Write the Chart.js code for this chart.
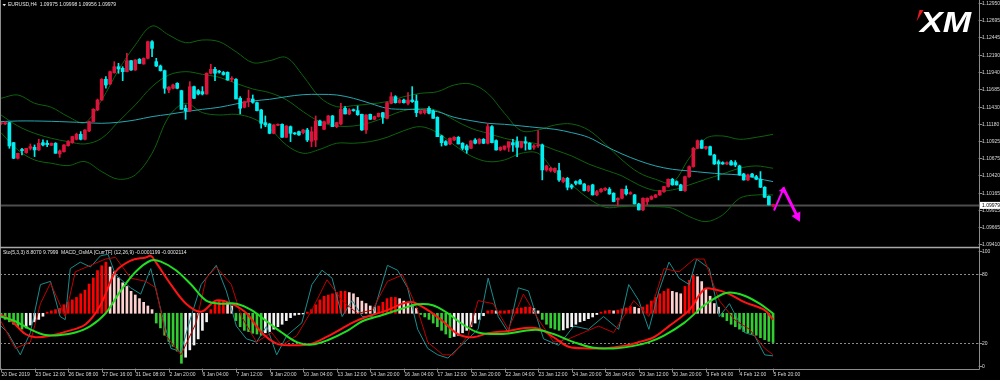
<!DOCTYPE html>
<html><head><meta charset="utf-8">
<script src="https://cdn.jsdelivr.net/npm/chart.js@4.4.1/dist/chart.umd.min.js"></script>
<style>html,body{margin:0;padding:0;background:#000;overflow:hidden}#wrap{width:1000px;height:380px}</style>
</head><body><div id="wrap"><canvas id="c" width="1000" height="380"></canvas></div>
<script>
const symbolHeader = "EURUSD,H4  1.09975 1.09998 1.09956 1.09979";
const indicatorHeader = "Sto(5,3,3) 8.8070 9.7999  MACD_OsMA [CurrTF] (12,26,9) -0.0001199 -0.0002114";
const timeLabels = ["20 Dec 2019","23 Dec 12:00","26 Dec 08:00","27 Dec 16:00","31 Dec 08:00","2 Jan 20:00","6 Jan 04:00","7 Jan 12:00","8 Jan 20:00","10 Jan 04:00","13 Jan 12:00","14 Jan 20:00","16 Jan 04:00","17 Jan 12:00","20 Jan 20:00","22 Jan 04:00","23 Jan 12:00","24 Jan 20:00","28 Jan 04:00","29 Jan 12:00","30 Jan 20:00","3 Feb 04:00","4 Feb 12:00","5 Feb 20:00"];
const timeTickIdx = [0,8,16,24,32,40,48,56,64,72,80,88,96,104,112,120,128,136,144,152,160,168,176,184];
const priceTicks = ["1.12950","1.12695","1.12445","1.12190","1.11940","1.11685","1.11430","1.11180","1.10925","1.10675","1.10420","1.10165","1.09915","1.09665","1.09410"];
const stoTicks = [100,80,20,0];
const stoLevels = [80,20];
const lastPrice = 1.09979;

const openP = [1.11180,1.11174,1.11194,1.10900,1.10671,1.10800,1.10754,1.10817,1.10832,1.10793,1.10900,1.10891,1.10861,1.10891,1.10734,1.10768,1.10856,1.10900,1.10949,1.11023,1.10949,1.11072,1.11209,1.11380,1.11526,1.11830,1.11761,1.11927,1.12015,1.11991,1.11942,1.12103,1.11966,1.12123,1.12055,1.12138,1.12382,1.12089,1.12025,1.11957,1.11673,1.11698,1.11771,1.11663,1.11404,1.11370,1.11722,1.11663,1.11649,1.11614,1.11918,1.11976,1.11945,1.11930,1.11932,1.11830,1.11830,1.11551,1.11419,1.11502,1.11541,1.11487,1.11380,1.11194,1.11174,1.11037,1.11155,1.11169,1.10979,1.11135,1.11037,1.11062,1.11047,1.11086,1.10920,1.10939,1.11218,1.11096,1.11184,1.11292,1.11135,1.11174,1.11404,1.11321,1.11379,1.11370,1.11316,1.11086,1.11316,1.11243,1.11282,1.11340,1.11257,1.11477,1.11575,1.11487,1.11526,1.11477,1.11526,1.11511,1.11331,1.11340,1.11404,1.11365,1.11272,1.10998,1.10915,1.10881,1.10939,1.10978,1.10891,1.10852,1.10817,1.10939,1.10891,1.10949,1.10891,1.11135,1.10930,1.10793,1.10803,1.10832,1.10900,1.10915,1.10832,1.10915,1.10891,1.10832,1.10852,1.10866,1.10499,1.10490,1.10475,1.10490,1.10328,1.10377,1.10270,1.10328,1.10343,1.10293,1.10196,1.10280,1.10133,1.10181,1.10206,1.10216,1.10157,1.10059,1.10084,1.10216,1.10147,1.10133,1.10000,1.09912,1.10035,1.10070,1.10098,1.10133,1.10181,1.10255,1.10362,1.10328,1.10280,1.10196,1.10401,1.10548,1.10817,1.10929,1.10817,1.10841,1.10719,1.10621,1.10607,1.10587,1.10621,1.10607,1.10558,1.10440,1.10352,1.10440,1.10401,1.10362,1.10245,1.10113,1.09975];
const highP = [1.11200,1.11209,1.11200,1.10905,1.10744,1.10817,1.10817,1.10881,1.10866,1.10949,1.10940,1.10930,1.10895,1.10900,1.10793,1.10871,1.10930,1.10995,1.11040,1.11062,1.11090,1.11215,1.11400,1.11540,1.11840,1.11869,1.11950,1.12089,1.12064,1.12015,1.12211,1.12110,1.12120,1.12135,1.12145,1.12390,1.12400,1.12138,1.12040,1.11966,1.11722,1.11760,1.11780,1.11670,1.11453,1.11795,1.11730,1.11680,1.11722,1.11925,1.12050,1.12006,1.11960,1.11945,1.11940,1.11869,1.11840,1.11575,1.11510,1.11673,1.11600,1.11495,1.11390,1.11292,1.11180,1.11165,1.11175,1.11175,1.11150,1.11145,1.11050,1.11070,1.11096,1.11110,1.11130,1.11291,1.11233,1.11215,1.11300,1.11300,1.11200,1.11477,1.11430,1.11400,1.11395,1.11438,1.11320,1.11311,1.11320,1.11290,1.11335,1.11345,1.11500,1.11634,1.11590,1.11540,1.11540,1.11634,1.11722,1.11600,1.11370,1.11390,1.11428,1.11380,1.11280,1.11010,1.10930,1.10970,1.10990,1.10990,1.10900,1.10870,1.10930,1.10960,1.10960,1.10960,1.11184,1.11150,1.10940,1.10840,1.10850,1.10900,1.10950,1.10985,1.10920,1.10985,1.10900,1.10870,1.11076,1.10880,1.10570,1.10540,1.10530,1.10597,1.10390,1.10390,1.10290,1.10340,1.10360,1.10300,1.10270,1.10290,1.10200,1.10230,1.10240,1.10240,1.10165,1.10090,1.10220,1.10265,1.10180,1.10140,1.10010,1.10090,1.10090,1.10120,1.10140,1.10200,1.10260,1.10370,1.10375,1.10340,1.10290,1.10410,1.10560,1.10830,1.10940,1.10940,1.10845,1.10850,1.10730,1.10646,1.10620,1.10620,1.10640,1.10636,1.10570,1.10450,1.10440,1.10450,1.10420,1.10475,1.10255,1.10120,1.09998];
const lowP = [1.11165,1.11165,1.10817,1.10665,1.10660,1.10720,1.10744,1.10793,1.10695,1.10783,1.10852,1.10842,1.10856,1.10744,1.10685,1.10760,1.10850,1.10890,1.10940,1.10940,1.10940,1.11062,1.11200,1.11370,1.11520,1.11698,1.11750,1.11918,1.11918,1.11810,1.11940,1.11960,1.11960,1.12060,1.12050,1.12130,1.12162,1.12015,1.11950,1.11624,1.11634,1.11690,1.11690,1.11389,1.11243,1.11355,1.11545,1.11600,1.11600,1.11610,1.11908,1.11810,1.11920,1.11890,1.11815,1.11795,1.11541,1.11321,1.11410,1.11429,1.11478,1.11365,1.11111,1.11135,1.11030,1.11030,1.11150,1.10975,1.10975,1.10915,1.11020,1.11005,1.11027,1.10915,1.10840,1.10842,1.11150,1.11090,1.11180,1.11135,1.11120,1.11160,1.11320,1.11310,1.11360,1.11300,1.11080,1.11037,1.11240,1.11235,1.11275,1.11184,1.11250,1.11470,1.11480,1.11480,1.11480,1.11455,1.11490,1.11282,1.11320,1.11320,1.11320,1.11255,1.10988,1.10850,1.10860,1.10870,1.10930,1.10880,1.10793,1.10744,1.10810,1.10880,1.10880,1.10885,1.10880,1.10895,1.10790,1.10780,1.10790,1.10770,1.10770,1.10695,1.10820,1.10790,1.10800,1.10800,1.10830,1.10353,1.10480,1.10470,1.10460,1.10330,1.10310,1.10206,1.10220,1.10280,1.10290,1.10190,1.10180,1.10130,1.10120,1.10170,1.10195,1.10140,1.10030,1.09970,1.10075,1.10130,1.10140,1.10000,1.09912,1.09900,1.09985,1.10060,1.10090,1.10125,1.10170,1.10245,1.10275,1.10275,1.10196,1.10185,1.10390,1.10540,1.10810,1.10815,1.10800,1.10715,1.10580,1.10352,1.10580,1.10575,1.10570,1.10548,1.10420,1.10350,1.10340,1.10395,1.10355,1.10240,1.10095,1.09985,1.09956];
const closeP = [1.11185,1.11194,1.10852,1.10671,1.10744,1.10783,1.10817,1.10842,1.10793,1.10891,1.10866,1.10871,1.10891,1.10744,1.10778,1.10866,1.10915,1.10989,1.11023,1.10949,1.11086,1.11209,1.11389,1.11526,1.11830,1.11746,1.11942,1.12015,1.11981,1.11942,1.12103,1.11966,1.12113,1.12064,1.12138,1.12382,1.12284,1.12025,1.11957,1.11698,1.11715,1.11746,1.11698,1.11389,1.11370,1.11722,1.11551,1.11614,1.11614,1.11918,1.11976,1.11918,1.11935,1.11900,1.11820,1.11844,1.11541,1.11404,1.11502,1.11551,1.11492,1.11370,1.11184,1.11160,1.11037,1.11160,1.11169,1.10979,1.11145,1.11037,1.11028,1.11013,1.11086,1.10939,1.11060,1.11218,1.11150,1.11208,1.11292,1.11135,1.11194,1.11389,1.11321,1.11379,1.11370,1.11311,1.11086,1.11306,1.11243,1.11282,1.11331,1.11272,1.11487,1.11575,1.11487,1.11526,1.11487,1.11526,1.11502,1.11340,1.11365,1.11379,1.11331,1.11257,1.10988,1.10900,1.10866,1.10964,1.10978,1.10881,1.10817,1.10793,1.10925,1.10891,1.10949,1.10891,1.11135,1.10900,1.10793,1.10832,1.10852,1.10915,1.10866,1.10832,1.10915,1.10891,1.10803,1.10852,1.10866,1.10499,1.10558,1.10523,1.10523,1.10352,1.10377,1.10245,1.10245,1.10303,1.10293,1.10196,1.10265,1.10133,1.10181,1.10216,1.10230,1.10147,1.10035,1.10084,1.10216,1.10147,1.10167,1.10000,1.09912,1.10084,1.10084,1.10108,1.10133,1.10196,1.10255,1.10362,1.10280,1.10280,1.10196,1.10401,1.10548,1.10817,1.10929,1.10817,1.10841,1.10719,1.10587,1.10587,1.10587,1.10607,1.10572,1.10572,1.10426,1.10352,1.10426,1.10401,1.10362,1.10245,1.10098,1.09986,1.09979];

const bandIdx = [0,4,8,12,16,20,24,28,32,36,40,44,48,52,56,60,64,68,72,76,80,84,88,92,96,100,104,108,112,116,120,124,128,132,136,140,144,148,152,156,160,164,168,172,176,180,184];
const bbUpper = [1.11551,1.11600,1.11478,1.11419,1.11282,1.11194,1.11526,1.11966,1.12333,1.12612,1.12480,1.12367,1.12407,1.12382,1.12235,1.12074,1.12103,1.12150,1.11880,1.11565,1.11428,1.11443,1.11468,1.11502,1.11575,1.11624,1.11648,1.11746,1.11761,1.11624,1.11331,1.11076,1.11086,1.11159,1.11174,1.11086,1.10881,1.10646,1.10460,1.10362,1.10313,1.10670,1.10964,1.10998,1.10949,1.10978,1.11022];
const bbMid = [1.11306,1.11145,1.11037,1.10964,1.10915,1.10881,1.10964,1.11209,1.11453,1.11722,1.11893,1.11942,1.11903,1.11859,1.11771,1.11688,1.11634,1.11530,1.11355,1.11208,1.11145,1.11145,1.11194,1.11282,1.11370,1.11404,1.11370,1.11233,1.11111,1.11037,1.10964,1.10915,1.10881,1.10793,1.10705,1.10587,1.10499,1.10411,1.10279,1.10196,1.10206,1.10279,1.10362,1.10440,1.10524,1.10558,1.10524];
const bbLower = [1.11047,1.10793,1.10646,1.10597,1.10563,1.10622,1.10475,1.10363,1.10426,1.10744,1.11282,1.11478,1.11341,1.11306,1.11316,1.11257,1.11111,1.10866,1.10744,1.10802,1.10891,1.10891,1.10915,1.10978,1.11076,1.11135,1.11047,1.10866,1.10705,1.10622,1.10646,1.10744,1.10744,1.10475,1.10279,1.10083,1.09951,1.09961,1.09971,1.09961,1.09937,1.09815,1.09741,1.09839,1.10083,1.10132,1.10132];
const maLine = [1.11209,1.11218,1.11218,1.11213,1.11204,1.11194,1.11184,1.11199,1.11233,1.11282,1.11316,1.11355,1.11389,1.11419,1.11468,1.11512,1.11536,1.11575,1.11604,1.11609,1.11600,1.11551,1.11477,1.11404,1.11389,1.11384,1.11355,1.11272,1.11223,1.11184,1.11169,1.11145,1.11120,1.11096,1.11047,1.10978,1.10851,1.10734,1.10636,1.10558,1.10509,1.10484,1.10460,1.10440,1.10426,1.10377,1.10328];

// MACD OsMA histogram, in units of 0.00001
const osma = [-1.5,-2.5,-3.5,-4.5,-5.5,-6.5,-6.0,-4.8,-3.5,-2.5,-1.2,0.5,1.0,1.5,2.0,3.5,4.5,5.5,6.5,8.0,9.5,12.0,14.5,17.5,19.5,21.0,19.0,17.0,14.5,12.5,11.0,9.0,7.5,6.0,4.5,3.0,1.5,-4.0,-6.0,-9.0,-11.5,-13.5,-15.5,-20.5,-18.0,-15.0,-13.0,-10.5,-7.0,-3.5,1.5,4.0,5.0,5.2,4.5,3.0,-3.0,-5.5,-7.0,-7.5,-8.2,-8.5,-9.0,-8.0,-7.5,-6.5,-5.5,-4.5,-3.0,-1.8,-0.8,-0.5,-0.3,0.5,1.5,3.5,5.5,7.0,7.5,8.0,8.5,9.0,9.0,8.5,8.0,6.5,5.0,4.0,3.0,2.5,3.0,4.5,6.0,6.5,6.5,6.0,5.0,4.5,3.5,2.0,-0.5,-1.5,-2.5,-4.0,-5.5,-7.0,-8.5,-10.0,-9.5,-9.0,-8.0,-7.0,-5.5,-4.0,-2.5,-1.0,1.0,1.2,1.0,1.0,1.0,1.2,1.5,2.0,2.2,2.5,2.5,2.0,1.0,-2.5,-4.5,-6.0,-6.5,-7.0,-6.8,-6.0,-5.5,-4.5,-3.5,-3.0,-2.2,-1.5,-0.5,0.5,1.0,1.2,1.0,1.3,1.8,2.2,2.8,2.5,2.0,2.5,3.5,5.0,6.5,8.0,9.0,10.0,9.0,8.5,8.0,11.0,13.5,15.5,15.0,13.0,10.0,7.0,4.0,2.5,-1.5,-3.0,-4.5,-5.5,-6.5,-7.5,-8.0,-8.5,-9.0,-10.0,-10.8,-11.5,-11.99];

const slowGreenIdx = [0,3.4,7.0,10.6,14.1,17.7,21.3,24.9,28.5,32.1,35.7,38.1,41.7,45.3,48.9,52.5,56.1,59.7,63.3,66.9,70.5,74.1,77.7,82.5,86.1,90.9,95.7,99.3,102.9,106.5,110.1,113.7,117.3,120.9,124.5,128.1,131.7,136.5,141.2,146.0,150.8,154.4,158.0,162.8,167.6,171.2,173.6,177.2,180.8,184];
const slowGreenVal = [43.0,38.9,31.9,26.9,26.9,29.1,34.7,45.8,65.3,81.9,91.7,90.8,83.3,70.8,56.9,54.2,54.2,48.6,38.9,29.1,20.8,18.6,22.2,30.5,38.9,44.4,50.0,53.6,52.8,45.8,36.1,29.1,27.8,28.3,30.5,31.4,27.8,20.8,15.8,15.3,17.5,20.8,26.4,37.5,52.8,61.1,63.9,61.1,54.2,45.8];
const slowRedIdx = [0,2.2,5.8,8.2,11.8,15.3,20.1,23.7,27.3,30.9,34.5,35.7,36.9,40.5,44.1,47.7,51.3,54.9,58.5,62.1,65.7,69.3,74.1,78.9,83.7,87.3,92.1,95.7,98.1,101.7,105.3,108.9,112.5,116.1,120.9,124.5,128.1,131.7,135.3,140.0,143.6,148.4,152.0,155.6,159.2,164.0,167.6,170.0,173.6,177.2,182.0,184];
const slowRedVal = [44.4,40.3,27.8,25.0,26.4,29.7,36.1,52.8,81.9,91.7,94.4,95.8,90.3,70.8,54.2,47.2,56.9,54.2,45.8,29.1,19.4,18.0,19.4,27.8,37.5,43.0,48.6,54.2,55.5,48.6,38.9,27.8,25.0,28.6,30.5,32.8,32.5,25.0,16.7,15.3,15.3,17.5,20.8,25.0,34.7,48.6,66.7,66.7,62.5,55.5,48.6,40.3];
const stoMainIdx = [0,1.6,4.6,7.0,9.4,11.8,14.1,15.3,16.5,18.9,21.3,23.7,25.5,27.3,30.9,33.3,35.7,38.1,40.5,42.9,45.3,47.7,51.3,53.7,56.1,58.5,60.9,63.3,65.7,68.1,71.7,74.1,76.5,78.9,81.3,83.7,86.1,88.5,92.1,94.5,96.9,99.3,101.7,104.1,106.5,108.9,111.3,113.7,116.1,118.5,120.9,123.3,125.7,129.3,132.9,136.5,140.0,143.6,147.2,149.6,152.0,154.4,156.8,159.2,161.6,164.0,165.8,168.8,171.2,173.6,177.2,179.6,182.0,184];
const stoMainVal = [34.7,29.1,9.7,29.1,70.8,73.6,43.0,40.3,84.7,90.3,86.1,95.8,97.2,79.2,68.0,62.5,84.7,48.6,15.3,12.5,43.0,70.8,87.5,65.3,34.7,23.6,20.8,34.7,9.7,26.4,37.5,70.8,83.3,76.4,43.0,56.9,43.0,43.0,87.5,83.3,68.0,31.9,15.3,9.7,6.9,15.3,23.6,31.9,76.4,43.0,29.1,68.0,65.3,23.6,18.0,34.7,31.9,43.0,31.9,70.8,56.9,31.9,65.3,90.3,76.4,70.8,93.0,84.7,43.0,54.2,29.1,26.4,9.7,8.807];
const stoSigIdx = [0,3.4,7.0,9.4,11.8,15.3,17.7,21.3,24.9,27.3,30.9,34.5,36.9,39.3,42.9,46.5,48.9,51.3,54.9,57.3,60.9,64.5,66.9,70.5,74.1,77.7,81.3,84.9,88.5,92.1,95.7,99.3,101.7,105.3,107.7,111.3,113.7,117.3,120.9,124.5,128.1,131.7,135.3,138.8,142.4,146.0,150.8,154.4,158.0,161.6,165.2,167.6,171.2,174.8,178.4,182.0,184];
const stoSigVal = [38.9,15.3,20.8,54.2,72.2,43.0,81.9,87.5,93.0,94.4,76.4,73.6,68.0,26.4,9.7,37.5,76.4,86.1,70.8,43.0,20.8,29.1,18.0,26.4,48.6,75.0,56.9,45.8,48.6,73.6,79.2,48.6,20.8,9.7,9.7,26.4,56.9,54.2,31.9,62.5,40.3,20.8,23.6,29.1,34.7,29.1,56.9,43.0,84.7,81.9,93.0,93.0,56.9,40.3,31.9,15.3,9.7999];

// hand-drawn magenta arrow, in chart coordinates (bar index, price)
const arrowIdx = [184.3, 186.5, 190.4];
const arrowPrice = [1.09915, 1.10225, 1.09739];

const BULL = '#dc143c', BEAR = '#00eef0';
const candleColor = i => closeP[i] >= openP[i] ? BULL : BEAR;
const pairs = (xs, ys) => xs.map((x, k) => ({x, y: ys[k]}));
const histColor = (i) => {
  const v = osma[i], p = i > 0 ? osma[i-1] : 0;
  if (v >= 0) return v >= p ? '#ff0000' : '#ffd2d2';
  return v <= p ? '#33cc33' : '#f2f2f2';
};

const FONT = '"Liberation Sans", Arial, sans-serif';
const mt4Plugin = {
  id: 'mt4',
  beforeDraw(chart) {
    const {ctx, chartArea: a, scales} = chart;
    ctx.save();
    ctx.fillStyle = '#000';
    ctx.fillRect(0, 0, chart.width, chart.height);
    // dotted level lines
    ctx.strokeStyle = '#8a8a8a'; ctx.lineWidth = 1; ctx.setLineDash([2, 2]);
    stoLevels.forEach(v => {
      const y = Math.round(scales.yS.getPixelForValue(v)) + 0.5;
      ctx.beginPath(); ctx.moveTo(a.left, y); ctx.lineTo(a.right, y); ctx.stroke();
    });
    ctx.setLineDash([]);
    // bid line
    const yb = scales.y.getPixelForValue(lastPrice);
    ctx.strokeStyle = '#4d4d4d'; ctx.lineWidth = 2;
    ctx.beginPath(); ctx.moveTo(a.left, yb); ctx.lineTo(a.right, yb); ctx.stroke();
    ctx.restore();
  },
  afterDraw(chart) {
    const {ctx, chartArea: a, scales} = chart;
    const xs = scales.x, ys = scales.y, yS = scales.yS;
    ctx.save();
    // frame
    ctx.strokeStyle = '#8c8c8c'; ctx.lineWidth = 1;
    ctx.beginPath();
    ctx.moveTo(a.right + 0.5, 0); ctx.lineTo(a.right + 0.5, a.bottom + 0.5);
    ctx.moveTo(0, a.bottom + 0.5); ctx.lineTo(a.right + 0.5, a.bottom + 0.5);
    ctx.moveTo(0.5, 0); ctx.lineTo(0.5, a.bottom);
    ctx.stroke();
    const sepY = (ys.getPixelForValue(1.09410) + yS.getPixelForValue(100)) / 2;
    ctx.strokeStyle = '#a8a8a8'; ctx.lineWidth = 1.5;
    ctx.beginPath(); ctx.moveTo(0, sepY); ctx.lineTo(a.right + 1, sepY); ctx.stroke();

    // magenta arrow
    const ax = arrowIdx.map(v => xs.getPixelForValue(v));
    const ay = arrowPrice.map(v => ys.getPixelForValue(v));
    ctx.strokeStyle = '#ff00ff'; ctx.fillStyle = '#ff00ff'; ctx.lineCap = 'round';
    const head = (x0, y0, x1, y1, len, w) => {
      const d = Math.hypot(x1 - x0, y1 - y0), ux = (x1 - x0) / d, uy = (y1 - y0) / d;
      const bx = x1 - ux * len, by = y1 - uy * len;
      ctx.beginPath(); ctx.moveTo(x1, y1);
      ctx.lineTo(bx - uy * w, by + ux * w); ctx.lineTo(bx + uy * w, by - ux * w);
      ctx.closePath(); ctx.fill();
      return [bx, by];
    };
    ctx.lineWidth = 2;
    ctx.beginPath(); ctx.moveTo(ax[0], ay[0]); ctx.lineTo(ax[1], ay[1]); ctx.stroke();
    head(ax[0], ay[0], ax[1] + 1, ay[1] - 2, 6, 3.5);
    const [bx, by] = head(ax[1], ay[1], ax[2], ay[2], 9, 5);
    ctx.lineWidth = 3;
    ctx.beginPath(); ctx.moveTo(ax[1], ay[1]); ctx.lineTo(bx, by); ctx.stroke();

    // texts
    ctx.font = '5px ' + FONT;
    ctx.textBaseline = 'middle'; ctx.textAlign = 'left';
    ctx.fillStyle = '#d8d8d8'; ctx.strokeStyle = '#8c8c8c'; ctx.lineWidth = 1;
    priceTicks.forEach(s => {
      const y = Math.round(ys.getPixelForValue(parseFloat(s))) + 0.5;
      ctx.beginPath(); ctx.moveTo(a.right, y); ctx.lineTo(a.right + 3, y); ctx.stroke();
      ctx.fillText(s, a.right + 3, y);
    });
    stoTicks.forEach(v => {
      const y = Math.round(yS.getPixelForValue(v)) + 0.5;
      ctx.beginPath(); ctx.moveTo(a.right, y); ctx.lineTo(a.right + 3, y); ctx.stroke();
      ctx.fillText(String(v), a.right + 3, y);
    });
    timeTickIdx.forEach((t, k) => {
      const x = Math.round(xs.getPixelForValue(t)) + 0.5;
      ctx.beginPath(); ctx.moveTo(x, a.bottom); ctx.lineTo(x, a.bottom + 3); ctx.stroke();
      ctx.fillText(timeLabels[k], x, a.bottom + 5.5);
    });
    // last price box
    const yl = ys.getPixelForValue(lastPrice);
    ctx.fillStyle = '#ffffff'; ctx.fillRect(a.right + 1, yl - 3.5, 21, 7);
    ctx.fillStyle = '#000000'; ctx.fillText(lastPrice.toFixed(5), a.right + 3, yl);

    // headers
    ctx.fillStyle = '#e6e6e6';
    ctx.beginPath(); ctx.moveTo(2.5, 4); ctx.lineTo(6, 4); ctx.lineTo(4.25, 6.2); ctx.closePath(); ctx.fill();
    ctx.fillText(symbolHeader, 8, 5);
    ctx.fillText(indicatorHeader, 3, yS.getPixelForValue(100) + 1.5);

    // XM logo
    ctx.fillStyle = '#e8191f';
    ctx.beginPath(); ctx.moveTo(919.5, 10); ctx.lineTo(923.5, 10); ctx.lineTo(916.5, 21.5); ctx.closePath(); ctx.fill();
    ctx.font = 'italic bold 29px ' + FONT;
    ctx.textBaseline = 'alphabetic';
    const w = ctx.measureText('XM').width;
    ctx.translate(920, 31.5); ctx.scale(51 / w, 1);
    ctx.fillStyle = '#ffffff'; ctx.fillText('XM', 0, 0);
    ctx.restore();
  }
};

const line = (label, xs, ys, axis, color, width, tension, order) => ({
  type: 'line', label, data: pairs(xs, ys), yAxisID: axis, borderColor: color,
  borderWidth: width, pointRadius: 0, tension, fill: false, order
});

new Chart(document.getElementById('c'), {
  type: 'bar',
  data: {
    datasets: [
      { type: 'bar', label: 'body', data: openP.map((o, i) => ({x: i, y: [o, closeP[i]]})), yAxisID: 'y',
        backgroundColor: c => candleColor(c.dataIndex), borderWidth: 0, barThickness: 3, minBarLength: 1, grouped: false, order: 0 },
      { type: 'bar', label: 'wick', data: lowP.map((l, i) => ({x: i, y: [l, highP[i]]})), yAxisID: 'y',
        backgroundColor: c => candleColor(c.dataIndex), borderWidth: 0, barThickness: 1, grouped: false, order: 1 },
      line('MA', bandIdx, maLine, 'y', '#26a6b0', 1, 0.35, 2),
      line('BB upper', bandIdx, bbUpper, 'y', '#0d630d', 1, 0.35, 3),
      line('BB mid', bandIdx, bbMid, 'y', '#0d630d', 1, 0.35, 3),
      line('BB lower', bandIdx, bbLower, 'y', '#0d630d', 1, 0.35, 3),
      line('slow green', slowGreenIdx, slowGreenVal, 'yS', '#22dd22', 2, 0.35, 4),
      line('slow red', slowRedIdx, slowRedVal, 'yS', '#ff1414', 2, 0.35, 5),
      line('Sto signal', stoSigIdx, stoSigVal, 'yS', '#c00000', 1, 0, 6),
      line('Sto main', stoMainIdx, stoMainVal, 'yS', '#1a8c8c', 1, 0, 7),
      { type: 'bar', label: 'OsMA', data: osma.map((v, i) => ({x: i, y: v})), yAxisID: 'yH',
        backgroundColor: c => histColor(c.dataIndex), borderWidth: 0, barThickness: 2, grouped: false, order: 8 }
    ]
  },
  options: {
    responsive: false, animation: false, events: [],
    layout: { padding: { left: 0, right: 21, top: 0, bottom: 11 } },
    plugins: { legend: { display: false }, tooltip: { enabled: false } },
    scales: {
      x: { type: 'linear', min: -0.238, max: 233.08, display: false, offset: false, bounds: 'data' },
      y: { type: 'linear', min: 1.075771, max: 1.129940, display: false, beginAtZero: false, bounds: 'data' },
      yS: { type: 'linear', min: -2.609, max: 318.26, display: false, beginAtZero: false, bounds: 'data' },
      yH: { type: 'linear', min: -22.84, max: 128.45, display: false, beginAtZero: false, bounds: 'data' }
    }
  },
  plugins: [mt4Plugin]
});
</script></body></html>
